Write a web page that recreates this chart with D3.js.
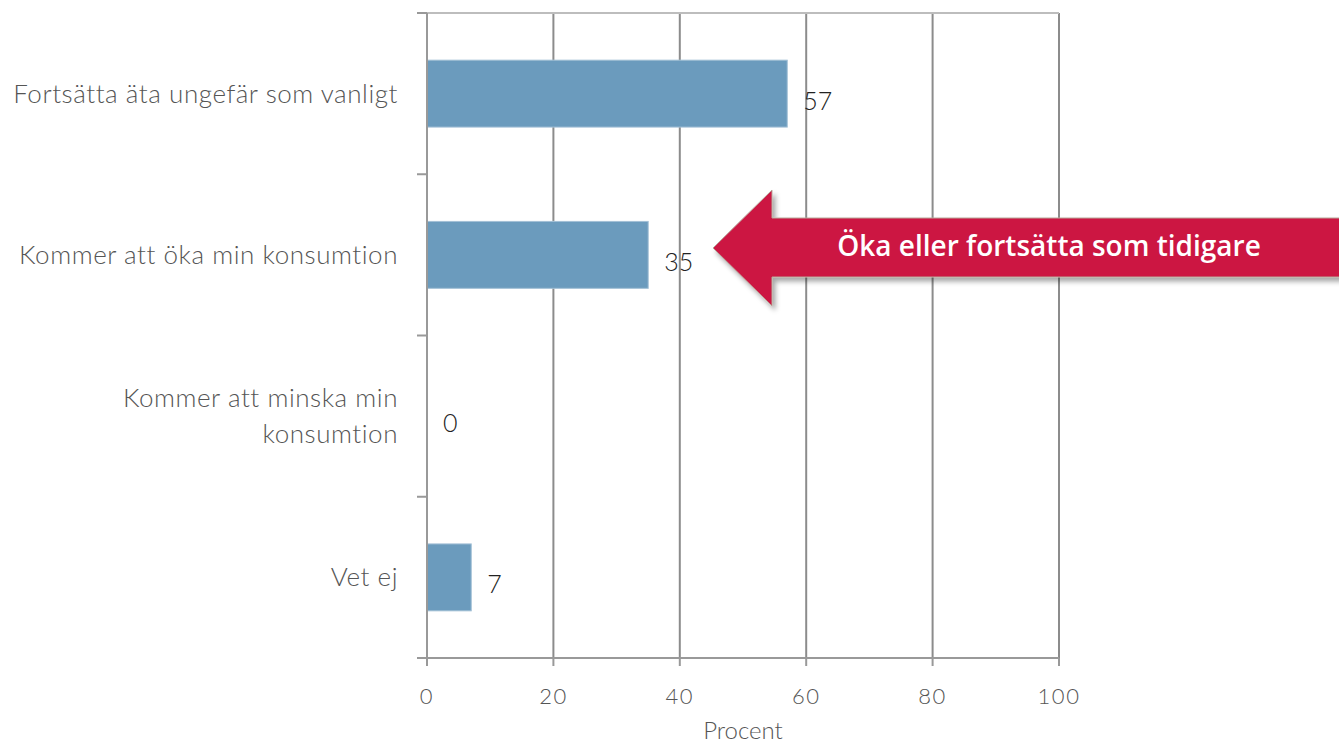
<!DOCTYPE html>
<html>
<head>
<meta charset="utf-8">
<script src="https://cdn.jsdelivr.net/npm/d3@7"></script>
<style>
  body { margin: 0; background: #fff; }
  svg text { font-family: Lato, "Open Sans", sans-serif; font-weight: 300; }
</style>
</head>
<body>
<svg width="1339" height="741"></svg>
<script>
// data
var categories = ["Fortsätta äta ungefär som vanligt", "Kommer att öka min konsumtion", "Kommer att minska min konsumtion", "Vet ej"];
var labelLines = [["Fortsätta äta ungefär som vanligt"], ["Kommer att öka min konsumtion"], ["Kommer att minska min", "konsumtion"], ["Vet ej"]];
var values = [57, 35, 0, 7];
var xTicks = [0, 20, 40, 60, 80, 100];
var axisTitle = "Procent";
var calloutText = "Öka eller fortsätta som tidigare";

var svg = d3.select("svg");
var plotLeft = 427, plotRight = 1059, plotTop = 13, plotBottom = 658;

var x = d3.scaleLinear().domain([0, 100]).range([plotLeft, plotRight]);
var y = d3.scaleBand().domain(categories).range([plotTop, plotBottom])
  .paddingInner(0.585).paddingOuter(0.2925);

var step = y.step();

// grid
var g = svg.append("g");
g.selectAll(".grid").data(xTicks.slice(1)).enter().append("line")
  .attr("x1", function(d) { return x(d); }).attr("x2", function(d) { return x(d); })
  .attr("y1", plotTop).attr("y2", plotBottom)
  .attr("stroke", "#8c8c8c").attr("stroke-width", 2);

g.append("line").attr("x1", plotLeft).attr("x2", plotRight).attr("y1", plotTop).attr("y2", plotTop)
  .attr("stroke", "#bdbdbd").attr("stroke-width", 2);

// bars
g.selectAll(".bar").data(categories).enter().append("rect")
  .attr("x", plotLeft)
  .attr("y", function(d) { return y(d); })
  .attr("width", function(d, i) { return x(values[i]) - plotLeft; })
  .attr("height", y.bandwidth())
  .attr("fill", "#6b9bbd")
  .attr("stroke", function(d, i) { return values[i] ? "#a3c0d6" : "none"; }).attr("stroke-width", 1);

// value labels
g.selectAll(".val").data(categories).enter().append("text")
  .attr("x", function(d, i) { return x(values[i]) + 16; })
  .attr("y", function(d) { return y(d) + y.bandwidth() / 2 + 16; })
  .attr("font-size", 25).attr("fill", "#222")
  .text(function(d, i) { return values[i]; });

// y axis
g.append("line").attr("x1", plotLeft).attr("x2", plotLeft).attr("y1", plotTop).attr("y2", plotBottom + 8)
  .attr("stroke", "#999").attr("stroke-width", 2);
g.selectAll(".ytick").data(d3.range(categories.length + 1)).enter().append("line")
  .attr("x1", plotLeft - 10).attr("x2", plotLeft)
  .attr("y1", function(i) { return plotTop + i * step; })
  .attr("y2", function(i) { return plotTop + i * step; })
  .attr("stroke", "#999").attr("stroke-width", 2);

// category labels
var lab = g.selectAll(".cat").data(categories).enter().append("text")
  .attr("text-anchor", "end").attr("font-size", 26).attr("fill", "#555")
  .attr("letter-spacing", 0.55);
lab.each(function(d, i) {
  var lines = labelLines[i];
  var cy = y(d) + y.bandwidth() / 2;
  var lh = 36;
  var y0 = cy - (lines.length - 1) * lh / 2 + 9;
  d3.select(this).selectAll("tspan").data(lines).enter().append("tspan")
    .attr("x", 398).attr("y", function(l, j) { return y0 + j * lh; })
    .text(function(l) { return l; });
});

// x axis
g.append("line").attr("x1", plotLeft - 10).attr("x2", plotRight).attr("y1", plotBottom).attr("y2", plotBottom)
  .attr("stroke", "#999").attr("stroke-width", 2);
g.selectAll(".xtick").data(xTicks).enter().append("line")
  .attr("x1", function(d) { return x(d); }).attr("x2", function(d) { return x(d); })
  .attr("y1", plotBottom).attr("y2", plotBottom + 8)
  .attr("stroke", "#999").attr("stroke-width", 2);
g.selectAll(".xlab").data(xTicks).enter().append("text")
  .attr("x", function(d) { return x(d); }).attr("y", 704)
  .attr("text-anchor", "middle").attr("font-size", 22).attr("fill", "#555")
  .attr("letter-spacing", 1.5)
  .text(function(d) { return d; });
g.append("text").attr("x", 743).attr("y", 739).attr("text-anchor", "middle")
  .attr("font-size", 24).attr("fill", "#555").text(axisTitle);

// callout arrow
var defs = svg.append("defs");
var f = defs.append("filter").attr("id", "shadow").attr("x", "-10%").attr("y", "-20%").attr("width", "130%").attr("height", "160%");
f.append("feDropShadow").attr("dx", 3).attr("dy", 4).attr("stdDeviation", 2.5)
  .attr("flood-color", "#000").attr("flood-opacity", 0.35);

var tipX = 713, headX = 772, cyA = 248;
var arrow = [[tipX, cyA], [headX, 190], [headX, 218], [1345, 218], [1345, 277], [headX, 277], [headX, 306]];
svg.append("path")
  .attr("d", d3.line()(arrow) + "Z")
  .attr("fill", "#cc1242").attr("stroke", "#b8a99a").attr("stroke-width", 1)
  .attr("filter", "url(#shadow)");
svg.append("text").attr("x", 1049).attr("y", 256).attr("text-anchor", "middle")
  .attr("font-size", 28).attr("fill", "#fff")
  .style("font-family", "'Open Sans', 'Noto Sans', sans-serif").style("font-weight", 600)
  .text(calloutText);
</script>
</body>
</html>
